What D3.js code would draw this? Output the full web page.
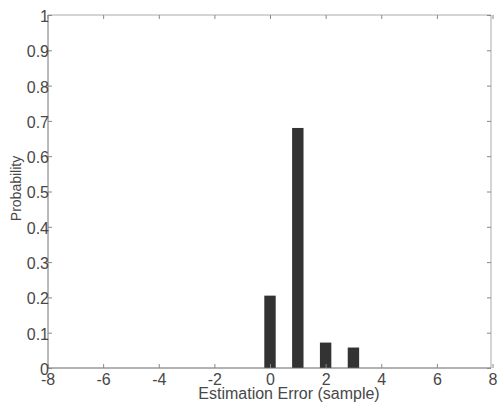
<!DOCTYPE html>
<html><head><meta charset="utf-8">
<script src="https://cdn.jsdelivr.net/npm/d3@7"></script>
<style>body{margin:0;background:#fff}svg{display:block}</style>
</head><body>
<svg id="c" width="499" height="403"></svg>
<script>
const errors = [0, 1, 2, 3];
const probs = [0.205, 0.68, 0.072, 0.058];
const xTicks = [-8, -6, -4, -2, 0, 2, 4, 6, 8];
const yTicks = [0, 0.1, 0.2, 0.3, 0.4, 0.5, 0.6, 0.7, 0.8, 0.9, 1];

const svg = d3.select("#c");
const L = 48, R = 491, T = 15, B = 368;
const x = d3.scaleLinear().domain([-8, 8]).range([47.5, 492.5]);
const y = d3.scaleLinear().domain([0, 1]).range([B, T]);
const barW = x(0.41) - x(0);
const font = "Arial, 'Liberation Sans', sans-serif";
const txt = "#484848";

svg.selectAll("rect.bar").data(errors).enter().append("rect")
  .attr("x", (d) => x(d) - barW / 2)
  .attr("y", (d, i) => y(probs[i]))
  .attr("width", barW)
  .attr("height", (d, i) => y(0) - y(probs[i]))
  .attr("fill", "#333");

// frame
svg.append("line").attr("x1", L).attr("x2", R).attr("y1", T).attr("y2", T).attr("stroke", "#aaa");
svg.append("line").attr("x1", R).attr("x2", R).attr("y1", T).attr("y2", B).attr("stroke", "#aaa");
svg.append("line").attr("x1", L).attr("x2", R).attr("y1", B).attr("y2", B).attr("stroke", "#666");
svg.append("line").attr("x1", L).attr("x2", L).attr("y1", T).attr("y2", B).attr("stroke", "#777");

const ax = d3.axisBottom(x).tickValues(xTicks).tickSize(-4).tickPadding(6).tickFormat(d => String(d));
const gx = svg.append("g").attr("transform", `translate(0,${B})`).call(ax);
const gxt = svg.append("g").attr("transform", `translate(0,${T})`).call(d3.axisTop(x).tickValues(xTicks).tickSize(-4).tickFormat(""));
const ay = d3.axisLeft(y).tickValues(yTicks).tickSize(-4).tickPadding(-1).tickFormat(d => d === 0 ? "0" : d === 1 ? "1" : d3.format(".1f")(d));
const gy = svg.append("g").attr("transform", `translate(${L},0)`).call(ay);
const gyr = svg.append("g").attr("transform", `translate(${R},0)`).call(d3.axisRight(y).tickValues(yTicks).tickSize(-4).tickFormat(""));
[gx, gxt, gy, gyr].forEach(g => {
  g.select(".domain").remove();
  g.selectAll(".tick line").attr("stroke", "#888");
  g.selectAll("text").attr("fill", txt).style("font-family", font).style("font-size", "16px");
});
gy.selectAll("text").attr("dy", "0.4em");

svg.append("text").attr("x", 289).attr("y", 399).attr("text-anchor", "middle")
  .attr("fill", txt).style("font-family", font).style("font-size", "16px")
  .text("Estimation Error (sample)");
svg.append("text").attr("transform", `translate(21,${(T + B) / 2 - 3}) rotate(-90)`).attr("text-anchor", "middle")
  .attr("fill", txt).style("font-family", font).style("font-size", "14px")
  .text("Probability");
</script>
</body></html>
